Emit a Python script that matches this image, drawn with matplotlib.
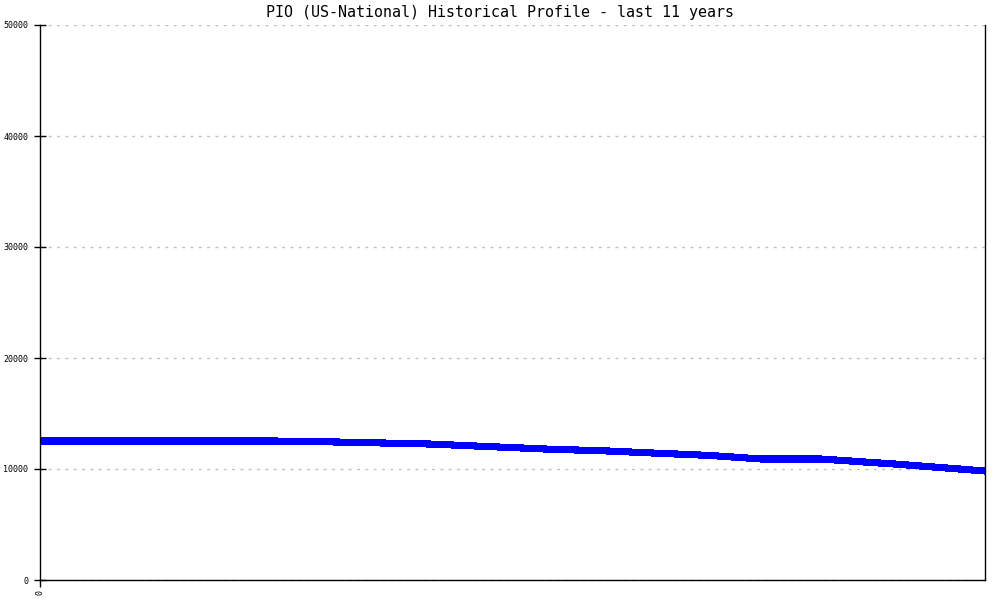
import matplotlib
matplotlib.use("Agg")
import matplotlib.pyplot as plt

# years since start of the 11-year window, and index value
years = [0.0, 2.74, 3.47, 4.54, 5.88, 6.62, 7.25, 7.80, 8.40, 9.09, 10.0, 11.0]
values = [12520, 12520, 12430, 12250, 11800, 11620, 11400, 11220, 10900, 10900, 10420, 9820]

yticks = [0, 10000, 20000, 30000, 40000, 50000]
title = "PIO (US-National) Historical Profile - last 11 years"

mono = "DejaVu Sans Mono"

fig = plt.figure(figsize=(10, 6), dpi=100)
ax = fig.add_axes([0.04, 1 - 580 / 600, 0.945, 555 / 600])

ax.plot(years, values, color="#0000ff", linewidth=4.4, solid_capstyle="butt",
        solid_joinstyle="miter", antialiased=False)

ax.set_xlim(0, 11)
ax.set_ylim(0, 50000)
ax.set_yticks(yticks)
ax.set_yticklabels([str(v) for v in yticks], family=mono, fontsize=6)
ax.set_xticks([0])
ax.set_xticklabels(["0"], family=mono, fontsize=6, rotation=90)

ax.grid(axis="y", color="#c0c0c0", linestyle=(0, (2, 4)), linewidth=1)
ax.set_axisbelow(True)

ax.spines["top"].set_visible(False)
for s in ("left", "bottom", "right"):
    ax.spines[s].set_linewidth(1)
    ax.spines[s].set_color("black")

ax.tick_params(axis="y", direction="inout", length=9, width=1, pad=4)
ax.tick_params(axis="x", direction="out", length=5, width=1, pad=2)

fig.text(0.5, 1 - 13 / 600, title, ha="center", va="center",
         family=mono, fontsize=10.8)

fig.savefig("out.png", dpi=100)
